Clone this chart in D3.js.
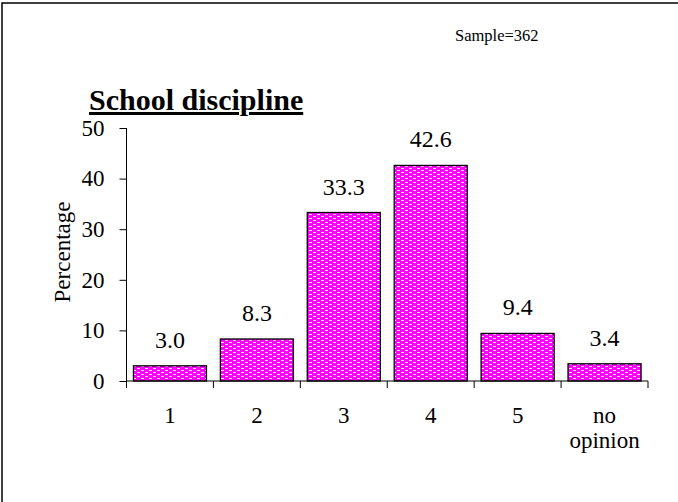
<!DOCTYPE html>
<html><head><meta charset="utf-8">
<script src="https://cdn.jsdelivr.net/npm/d3@7"></script>
<style>body{margin:0;background:#fff}svg{display:block}</style>
</head><body>
<script>
const categories = ["1", "2", "3", "4", "5", "no opinion"];
const values = [3.0, 8.3, 33.3, 42.6, 9.4, 3.4];
const yTicks = [0, 10, 20, 30, 40, 50];
const title = "School discipline";
const sampleText = "Sample=362";
const yLabel = "Percentage";

const W = 678, H = 502;
const svg = d3.select("body").append("svg").attr("width", W).attr("height", H);
const font = "'Liberation Serif', 'Times New Roman', serif";
const fs = 23;

// frame
svg.append("rect").attr("x", 2).attr("y", 3).attr("width", 700).attr("height", 520)
  .attr("fill", "none").attr("stroke", "#000").attr("stroke-width", 1.5);

// pattern
const defs = svg.append("defs");
const pat = defs.append("pattern").attr("id", "dots").attr("patternUnits", "userSpaceOnUse")
  .attr("width", 8).attr("height", 4);
pat.append("rect").attr("width", 8).attr("height", 4).attr("fill", "#ff00ff");
pat.append("rect").attr("x", 1).attr("y", 0).attr("width", 3).attr("height", 1).attr("fill", "#ffe0ff");
pat.append("rect").attr("x", 5).attr("y", 2).attr("width", 3).attr("height", 1).attr("fill", "#ffe0ff");

const x = d3.scaleBand().domain(categories).range([126.5, 648]).paddingInner(0.16).paddingOuter(0.08);
const y = d3.scaleLinear().domain([0, 50]).range([381, 128]);

// bars
svg.selectAll("rect.bar").data(values).enter().append("rect").attr("class", "bar")
  .attr("x", (d, i) => x(categories[i]))
  .attr("y", d => y(d))
  .attr("width", x.bandwidth())
  .attr("height", d => y(0) - y(d))
  .attr("fill", "url(#dots)").attr("stroke", "#000").attr("stroke-width", 1.3);

// value labels
svg.selectAll("text.val").data(values).enter().append("text").attr("class", "val")
  .attr("x", (d, i) => x(categories[i]) + x.bandwidth() / 2)
  .attr("y", d => y(d) - 18)
  .attr("text-anchor", "middle").attr("font-family", font).attr("font-size", 24)
  .text(d => d.toFixed(1));

// y axis
const yAxis = d3.axisLeft(y).tickValues(yTicks).tickSize(7).tickPadding(15).tickFormat(d3.format("d"));
const gy = svg.append("g").attr("transform", "translate(126.5,0)").call(yAxis);
gy.select(".domain").attr("d", `M0,${y(50)}V${y(0)}`);
gy.selectAll("text").attr("font-family", font).attr("font-size", fs).attr("fill", "#000");

// x axis
const gx = svg.append("g").attr("transform", `translate(0,${y(0)})`);
gx.append("line").attr("x1", 126.5).attr("x2", 648).attr("stroke", "#000");
const step = x.step();
const bounds = categories.map((c, i) => x(c) - x.paddingInner() * step / 2).concat([648]);
bounds[0] = 126.5;
gx.selectAll("line.tk").data(bounds).enter().append("line").attr("class", "tk")
  .attr("x1", d => d).attr("x2", d => d).attr("y1", 0).attr("y2", 7).attr("stroke", "#000");
categories.forEach((c, i) => {
  const words = c.split(" ");
  const t = gx.append("text").attr("x", x(c) + x.bandwidth() / 2).attr("y", 42)
    .attr("text-anchor", "middle").attr("font-family", font).attr("font-size", fs);
  words.forEach((w, j) => t.append("tspan").attr("x", x(c) + x.bandwidth() / 2).attr("dy", j === 0 ? 0 : 25).text(w));
});

// y label
svg.append("text").attr("transform", "translate(70,252) rotate(-90)")
  .attr("text-anchor", "middle").attr("font-family", font).attr("font-size", fs).text(yLabel);

// title
svg.append("text").attr("x", 89).attr("y", 110).attr("font-family", font).attr("font-size", 30)
  .attr("font-weight", "bold").attr("text-decoration", "underline").text(title);

// sample
svg.append("text").attr("x", 455).attr("y", 41).attr("font-family", font).attr("font-size", 16.5).text(sampleText);
</script>
</body></html>
